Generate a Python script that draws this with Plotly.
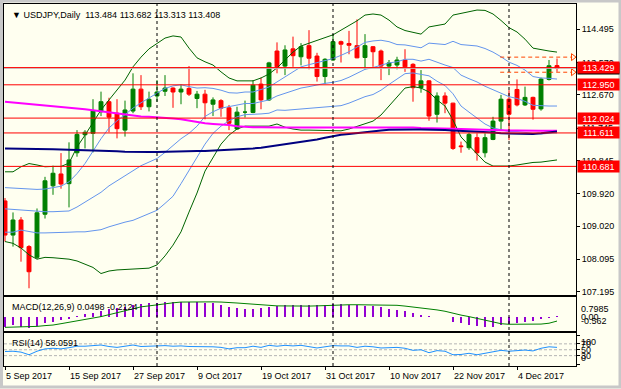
import plotly.graph_objects as go

# ---------------- data ----------------
opens = [109.72, 108.77, 109.19, 108.45, 108.15, 109.35, 110.14, 110.47, 110.20, 111.06,
         111.56, 111.60, 112.20, 112.48, 112.16, 111.69, 112.22, 112.83, 112.34, 112.64,
         112.77, 112.86, 112.75, 112.85, 112.57, 112.69, 112.41, 112.51, 112.31, 111.72,
         112.19, 112.18, 112.97, 112.53, 113.89, 113.47, 113.95, 113.73, 114.04, 113.75,
         113.18, 113.64, 114.15, 114.10, 114.04, 113.71, 114.01, 113.89, 113.47, 113.50,
         113.64, 113.52, 112.87, 113.06, 112.13, 112.64, 112.44, 111.25, 111.20, 111.48,
         111.06, 111.43, 111.94, 112.55, 112.82, 112.39, 112.60, 112.28, 113.10, 113.484]
highs = [109.80, 109.40, 109.27, 108.49, 109.51, 110.39, 110.70, 111.05, 111.35, 111.69,
         111.69, 112.55, 112.76, 112.59, 112.55, 112.51, 113.27, 113.22, 112.76, 113.08,
         113.22, 112.88, 112.96, 113.47, 112.78, 112.81, 112.60, 112.55, 112.39, 112.34,
         112.51, 113.08, 113.15, 113.59, 114.13, 114.05, 114.29, 114.11, 114.47, 113.84,
         113.69, 114.36, 114.18, 114.45, 114.77, 114.36, 114.03, 113.93, 113.64, 113.73,
         113.94, 113.55, 113.36, 113.08, 112.74, 112.74, 112.45, 111.37, 111.62, 111.60,
         111.60, 112.06, 112.67, 112.80, 113.10, 112.90, 112.62, 113.15, 113.64, 113.682]
lows = [108.59, 108.45, 108.03, 107.29, 108.10, 109.23, 109.89, 110.06, 109.54, 110.95,
        111.18, 111.07, 112.08, 111.63, 111.46, 111.51, 112.16, 112.25, 112.21, 112.48,
        112.64, 112.31, 112.41, 112.64, 112.30, 111.99, 112.08, 112.06, 111.69, 111.71,
        112.04, 112.16, 112.27, 112.50, 113.27, 113.22, 113.45, 113.49, 113.38, 113.04,
        112.97, 113.62, 113.57, 113.80, 113.69, 113.38, 113.45, 113.08, 113.22, 113.38,
        113.31, 112.48, 112.73, 111.95, 111.90, 112.16, 111.14, 111.06, 111.14, 110.84,
        110.93, 111.41, 111.67, 111.41, 112.35, 112.36, 111.98, 112.23, 113.07, 113.313]
closes = [108.77, 109.19, 108.42, 107.75, 109.39, 110.28, 110.49, 110.19, 110.86, 111.57,
          111.63, 112.22, 112.48, 112.05, 111.73, 112.25, 112.83, 112.34, 112.55, 112.75,
          112.86, 112.75, 112.83, 112.69, 112.69, 112.45, 112.53, 112.30, 111.88, 112.19,
          112.19, 112.94, 112.53, 113.56, 113.45, 113.92, 113.76, 114.01, 113.69, 113.18,
          113.66, 114.15, 114.08, 114.05, 113.70, 114.04, 113.87, 113.47, 113.56, 113.64,
          113.45, 112.87, 113.06, 112.08, 112.64, 112.44, 111.18, 111.23, 111.57, 111.06,
          111.48, 111.94, 112.55, 112.13, 112.39, 112.60, 112.27, 113.11, 113.48, 113.408]

bb2_upper = [110.53, 110.53, 110.67, 110.76, 110.72, 110.67, 110.68, 110.68, 110.77, 111.22,
             111.55, 111.92, 112.25, 112.53, 112.81, 113.08, 113.45, 113.72, 113.95, 114.11,
             114.25, 114.31, 114.28, 113.97, 113.70, 113.59, 113.50, 113.31, 113.14, 113.06,
             113.06, 113.06, 113.14, 113.25, 113.42, 113.64, 113.86, 114.03, 114.11, 114.20,
             114.28, 114.34, 114.47, 114.59, 114.73, 114.89, 114.92, 114.89, 114.75, 114.56,
             114.46, 114.41, 114.36, 114.56, 114.60, 114.64, 114.89, 114.93, 114.99, 115.03,
             115.02, 114.92, 114.74, 114.54, 114.42, 114.22, 113.97, 113.92, 113.89, 113.86]
bb2_lower = [108.59, 108.54, 108.41, 108.22, 108.10, 108.15, 108.14, 108.12, 108.10, 108.05,
             107.97, 107.87, 107.70, 107.77, 107.80, 107.81, 107.81, 107.83, 107.85, 107.94,
             108.19, 108.49, 108.86, 109.41, 109.94, 110.55, 110.94, 111.30, 111.55, 111.72,
             111.80, 111.80, 111.80, 111.80, 111.86, 111.77, 111.72, 111.69, 111.69, 111.69,
             111.69, 111.69, 111.67, 111.72, 111.80, 111.86, 111.94, 112.11, 112.36, 112.61,
             112.86, 112.90, 112.86, 112.75, 112.53, 112.36, 111.97, 111.50, 111.25, 111.03,
             110.80, 110.69, 110.69, 110.69, 110.72, 110.76, 110.79, 110.80, 110.83, 110.86]
bb1_upper = [110.09, 110.08, 110.05, 110.04, 110.04, 110.05, 110.08, 110.13, 110.25, 110.48,
             110.76, 111.10, 111.45, 111.75, 111.95, 112.12, 112.30, 112.45, 112.58, 112.70,
             112.85, 112.92, 112.95, 112.90, 112.86, 112.87, 112.85, 112.80, 112.73, 112.72,
             112.75, 112.75, 112.81, 112.89, 113.03, 113.17, 113.33, 113.45, 113.51, 113.57,
             113.63, 113.68, 113.77, 113.87, 114.00, 114.13, 114.17, 114.19, 114.15, 114.07,
             114.06, 114.03, 113.98, 114.11, 114.08, 114.07, 114.16, 114.07, 114.05, 114.03,
             113.96, 113.86, 113.73, 113.58, 113.49, 113.36, 113.18, 113.14, 113.13, 113.11]
bb_middle = [109.50, 109.48, 109.47, 109.44, 109.42, 109.42, 109.42, 109.42, 109.44, 109.55,
             109.68, 109.83, 109.96, 110.14, 110.28, 110.42, 110.57, 110.70, 110.80, 110.90,
             111.07, 111.25, 111.45, 111.60, 111.80, 112.07, 112.20, 112.30, 112.35, 112.39,
             112.43, 112.43, 112.47, 112.53, 112.64, 112.71, 112.79, 112.86, 112.90, 112.95,
             112.99, 113.02, 113.07, 113.16, 113.27, 113.38, 113.43, 113.50, 113.56, 113.59,
             113.66, 113.66, 113.61, 113.66, 113.57, 113.50, 113.43, 113.22, 113.12, 113.03,
             112.91, 112.81, 112.72, 112.62, 112.57, 112.49, 112.38, 112.36, 112.36, 112.36]
bb1_lower = [108.85, 108.85, 108.91, 108.86, 108.83, 108.83, 108.83, 108.84, 108.85, 108.86,
             108.86, 108.89, 108.92, 109.00, 109.07, 109.13, 109.18, 109.28, 109.36, 109.46,
             109.65, 109.85, 110.20, 110.57, 110.95, 111.30, 111.60, 111.80, 111.95, 112.06,
             112.12, 112.12, 112.14, 112.16, 112.25, 112.24, 112.26, 112.28, 112.30, 112.32,
             112.34, 112.35, 112.37, 112.44, 112.53, 112.62, 112.68, 112.80, 112.96, 113.10,
             113.26, 113.28, 113.24, 113.20, 113.05, 112.93, 112.70, 112.36, 112.19, 112.03,
             111.86, 111.75, 111.70, 111.65, 111.65, 111.63, 111.59, 111.58, 111.60, 111.61]
ma_magenta = [112.48, 112.46, 112.44, 112.43, 112.41, 112.38, 112.36, 112.34, 112.31, 112.29,
              112.27, 112.24, 112.21, 112.17, 112.14, 112.11, 112.08, 112.07, 112.06, 112.05,
              112.03, 112.01, 111.99, 111.95, 111.91, 111.88, 111.86, 111.85, 111.83, 111.80,
              111.78, 111.77, 111.77, 111.76, 111.76, 111.76, 111.76, 111.76, 111.77, 111.77,
              111.77, 111.77, 111.77, 111.77, 111.78, 111.78, 111.78, 111.78, 111.78, 111.78,
              111.76, 111.76, 111.75, 111.75, 111.74, 111.74, 111.73, 111.72, 111.71, 111.70,
              111.69, 111.69, 111.68, 111.68, 111.68, 111.67, 111.67, 111.67, 111.67, 111.67]
ma_navy = [111.18, 111.18, 111.17, 111.17, 111.16, 111.16, 111.16, 111.15, 111.15, 111.14,
           111.13, 111.12, 111.12, 111.11, 111.10, 111.09, 111.08, 111.08, 111.08, 111.08,
           111.09, 111.10, 111.10, 111.10, 111.11, 111.11, 111.12, 111.13, 111.13, 111.14,
           111.15, 111.18, 111.20, 111.23, 111.27, 111.31, 111.34, 111.37, 111.40, 111.43,
           111.48, 111.53, 111.56, 111.58, 111.61, 111.63, 111.67, 111.68, 111.70, 111.71,
           111.71, 111.71, 111.71, 111.71, 111.71, 111.69, 111.68, 111.67, 111.66, 111.65,
           111.64, 111.62, 111.60, 111.59, 111.58, 111.57, 111.58, 111.60, 111.62, 111.65]

macd_main = [-0.51, -0.42, -0.54, -0.562, -0.47, -0.325, -0.245, -0.15, -0.08, 0.04,
             0.16, 0.23, 0.33, 0.40, 0.47, 0.54, 0.63, 0.68, 0.71, 0.74,
             0.78, 0.7985, 0.79, 0.79, 0.78, 0.74, 0.71, 0.64, 0.54, 0.46,
             0.40, 0.40, 0.46, 0.50, 0.57, 0.61, 0.63, 0.64, 0.64, 0.63,
             0.63, 0.68, 0.68, 0.64, 0.61, 0.58, 0.57, 0.50, 0.43, 0.37,
             0.30, 0.19, 0.12, 0.05, 0.01, -0.015, -0.245, -0.325, -0.405, -0.475,
             -0.54, -0.51, -0.44, -0.38, -0.325, -0.255, -0.21, -0.12, -0.04, 0.0498]
macd_signal = [-0.54, -0.53, -0.52, -0.51, -0.49, -0.45, -0.42, -0.35, -0.28, -0.21,
               -0.14, -0.05, 0.02, 0.12, 0.23, 0.33, 0.43, 0.53, 0.58, 0.64,
               0.70, 0.74, 0.78, 0.79, 0.79, 0.79, 0.79, 0.78, 0.77, 0.73,
               0.70, 0.66, 0.63, 0.61, 0.58, 0.57, 0.57, 0.57, 0.57, 0.58,
               0.60, 0.63, 0.63, 0.64, 0.64, 0.64, 0.63, 0.63, 0.62, 0.61,
               0.57, 0.53, 0.47, 0.41, 0.37, 0.30, 0.19, 0.10, 0.02, -0.07,
               -0.18, -0.28, -0.35, -0.38, -0.38, -0.38, -0.38, -0.37, -0.325, -0.2124]
rsi = [44, 45, 42, 33, 45, 53, 55, 53, 57, 62,
       62, 65, 66, 61, 58, 62, 66, 61, 62, 63,
       64, 62, 63, 61, 61, 59, 60, 58, 53, 57,
       57, 62, 58, 65, 62, 65, 63, 65, 61, 56,
       60, 64, 63, 63, 58, 62, 60, 56, 57, 58,
       55, 48, 50, 40, 47, 45, 33, 34, 38, 33,
       38, 43, 48, 45, 47, 49, 46, 55, 60, 58.06]

levels = [113.429, 112.950, 112.024, 111.611, 110.681]
bid_price = 113.408
range_marks = [113.72, 113.30]
range_start = 62
price_ticks = [114.495, 113.570, 112.670, 111.745, 110.845, 109.920, 109.020, 108.095, 107.195]
date_tick_idx = [0, 8, 16, 24, 32, 40, 48, 56, 64]
date_tick_labels = ["5 Sep 2017", "15 Sep 2017", "27 Sep 2017", "9 Oct 2017", "19 Oct 2017",
                    "31 Oct 2017", "10 Nov 2017", "22 Nov 2017", "4 Dec 2017"]
month_sep_idx = [19, 41, 63]
title_text = "USDJPY,Daily\u00a0\u00a0113.484 113.682 113.313 113.408"
macd_label = "MACD(12,26,9) 0.0498 -0.2124"
rsi_label = "RSI(14) 58.0591"
macd_axis_labels = [(0.7985, "0.7985", "top"), (0.0, "0.00", "middle"), (-0.562, "-0.562", "bottom")]
rsi_axis_labels = [(100, "100", "top"), (70, "70", "middle"), (50, "50", "middle"),
                   (30, "30", "middle"), (0, "0", "bottom")]
rsi_levels = [70, 50, 30]

idx = list(range(len(closes)))

# ---------------- style ----------------
W, H = 621, 389
ML, MR, MT, MB = 4, 45, 4, 23
PW, PH = W - ML - MR, H - MT - MB
BG = "#FFFFF0"
FONT = "Liberation Sans"
FS = 9


def ydom(top_px, bot_px):
    return [(PH + MT - bot_px) / PH, (PH + MT - top_px) / PH]


fig = go.Figure()

# candles
fig.add_trace(go.Candlestick(
    x=idx, open=opens, high=highs, low=lows, close=closes,
    increasing=dict(line=dict(color="#008000", width=1), fillcolor="#008000"),
    decreasing=dict(line=dict(color="#FF0000", width=1), fillcolor="#FF0000"),
    whiskerwidth=0, xaxis="x", yaxis="y", hoverinfo="skip", showlegend=False))

# indicator lines
for vals, col, w in [(bb2_upper, "#006400", 1), (bb2_lower, "#006400", 1),
                     (bb1_upper, "#6495ED", 1), (bb_middle, "#6495ED", 1), (bb1_lower, "#6495ED", 1),
                     (ma_magenta, "#FF00FF", 2), (ma_navy, "#000080", 2)]:
    fig.add_trace(go.Scatter(x=idx, y=vals, mode="lines", line=dict(color=col, width=w),
                             xaxis="x", yaxis="y", hoverinfo="skip", showlegend=False))

# arrows at the end of orange range marks
fig.add_trace(go.Scatter(x=[len(idx) + 1.0] * len(range_marks), y=range_marks, mode="markers",
                         marker=dict(symbol="triangle-right-open", size=6, color="#FF4500",
                                     line=dict(width=1, color="#FF4500")),
                         xaxis="x", yaxis="y", hoverinfo="skip", showlegend=False, cliponaxis=False))

# MACD
fig.add_trace(go.Bar(x=idx, y=macd_main, width=0.13, marker=dict(color="#9400D3", line=dict(width=0)),
                     xaxis="x2", yaxis="y2", hoverinfo="skip", showlegend=False))
fig.add_trace(go.Scatter(x=idx, y=macd_signal, mode="lines", line=dict(color="#008000", width=1),
                         xaxis="x2", yaxis="y2", hoverinfo="skip", showlegend=False))

# RSI
fig.add_trace(go.Scatter(x=idx, y=rsi, mode="lines", line=dict(color="#1E90FF", width=1),
                         xaxis="x3", yaxis="y3", hoverinfo="skip", showlegend=False))

shapes = []
shapes.append(dict(type="line", xref="paper", x0=0, x1=1, yref="y", y0=bid_price, y1=bid_price,
                   line=dict(color="#C0C0C0", width=1), layer="above"))
for lv in levels:
    shapes.append(dict(type="line", xref="paper", x0=0, x1=1, yref="y", y0=lv, y1=lv,
                       line=dict(color="#FF0000", width=1), layer="above"))
for rm in range_marks:
    shapes.append(dict(type="line", xref="x", x0=range_start - 0.1, x1=len(idx) + 0.9, yref="y", y0=rm, y1=rm,
                       line=dict(color="#FF4500", width=1, dash="4px,3px"), layer="above"))
for s in month_sep_idx:
    shapes.append(dict(type="line", xref="x", x0=s, x1=s, yref="paper", y0=0, y1=1,
                       line=dict(color="#000000", width=1, dash="3px,3px"), layer="above"))
for lv in rsi_levels:
    shapes.append(dict(type="line", xref="paper", x0=0, x1=1, yref="y3", y0=lv, y1=lv,
                       line=dict(color="#B4B4B4", width=1, dash="3px,2px"), layer="below"))
# window frame
shapes.append(dict(type="rect", xref="paper", yref="paper",
                   x0=(1.5 - ML) / PW, x1=(W - 1 - ML) / PW,
                   y0=(PH + MT - (H - 2)) / PH, y1=(PH + MT - 1) / PH,
                   line=dict(color="#C8C8C8", width=3), layer="above"))

ann = []
ann.append(dict(xref="paper", yref="paper", x=0, y=1, xanchor="left", yanchor="top", xshift=6, yshift=-4,
                text="\u25BC " + title_text, showarrow=False, font=dict(family=FONT, size=FS, color="#000000")))
ann.append(dict(xref="paper", yref="y2 domain", x=0, y=1, xanchor="left", yanchor="top", xshift=6, yshift=-3,
                text=macd_label, showarrow=False, font=dict(family=FONT, size=FS, color="#000000")))
ann.append(dict(xref="paper", yref="y3 domain", x=0, y=1, xanchor="left", yanchor="top", xshift=6, yshift=-3,
                text=rsi_label, showarrow=False, font=dict(family=FONT, size=FS, color="#000000")))
for v, t, anc in macd_axis_labels:
    ann.append(dict(xref="paper", yref="y2", x=1, y=v, xanchor="left", yanchor=anc, xshift=3,
                    text=t, showarrow=False, font=dict(family=FONT, size=FS, color="#000000")))
for v, t, anc in rsi_axis_labels:
    ann.append(dict(xref="paper", yref="y3", x=1, y=v, xanchor="left", yanchor=anc, xshift=3,
                    text=t, showarrow=False, font=dict(family=FONT, size=FS, color="#000000")))
ann.append(dict(xref="paper", yref="y", x=1, y=bid_price, xanchor="left", yanchor="middle", xshift=1,
                text=f"{bid_price:.3f}", showarrow=False, bgcolor="#000000", width=41, height=11,
                borderpad=0, font=dict(family=FONT, size=FS, color="#FFFFFF")))
for lv in levels:
    ann.append(dict(xref="paper", yref="y", x=1, y=lv, xanchor="left", yanchor="middle", xshift=1,
                    text=f"{lv:.3f}", showarrow=False, bgcolor="#FF0000", width=41, height=11,
                    borderpad=0, font=dict(family=FONT, size=FS, color="#FFFFFF")))
for i, t in zip(date_tick_idx, date_tick_labels):
    ann.append(dict(xref="x3", yref="paper", x=i, y=0, xanchor="left", yanchor="top", xshift=-1, yshift=-3,
                    text=t, showarrow=False, font=dict(family=FONT, size=FS, color="#000000")))

axis_common = dict(showgrid=False, zeroline=False, showline=True, mirror=True,
                   linecolor="#000000", linewidth=1)
xr = [-0.125, len(idx) + 1.375]

fig.update_layout(
    width=W, height=H, autosize=False,
    margin=dict(l=ML, r=MR, t=MT, b=MB, pad=0),
    paper_bgcolor=BG, plot_bgcolor=BG,
    showlegend=False, hovermode=False, bargap=0,
    font=dict(family=FONT, size=FS, color="#000000"),
    shapes=shapes, annotations=ann,
    xaxis=dict(domain=[0, 1], range=xr, anchor="y", showticklabels=False, ticks="",
               rangeslider=dict(visible=False), **axis_common),
    xaxis2=dict(domain=[0, 1], range=xr, matches="x", anchor="y2", showticklabels=False, ticks="",
                **axis_common),
    xaxis3=dict(domain=[0, 1], range=xr, matches="x", anchor="y3", showticklabels=False,
                ticks="outside", ticklen=3, tickcolor="#000000", tickvals=date_tick_idx, **axis_common),
    yaxis=dict(domain=ydom(4, 295), range=[107.103, 115.198], side="right", anchor="x",
               tickvals=price_ticks, ticktext=[f"{v:.3f}" for v in price_ticks],
               ticks="outside", ticklen=3, tickcolor="#000000",
               tickfont=dict(family=FONT, size=FS, color="#000000"), **axis_common),
    yaxis2=dict(domain=ydom(297, 331), range=[-0.731, 1.044], side="right", anchor="x2",
                showticklabels=False, ticks="", **axis_common),
    yaxis3=dict(domain=ydom(333, 366), range=[-5.1, 106.8], side="right", anchor="x3",
                showticklabels=False, ticks="outside", ticklen=3, tickcolor="#000000",
                tickvals=[0, 30, 50, 70, 100], **axis_common),
)

fig.write_html("out.html", config={"displayModeBar": False, "staticPlot": True},
               post_script="document.body.style.margin='0';document.body.style.overflow='hidden';")
